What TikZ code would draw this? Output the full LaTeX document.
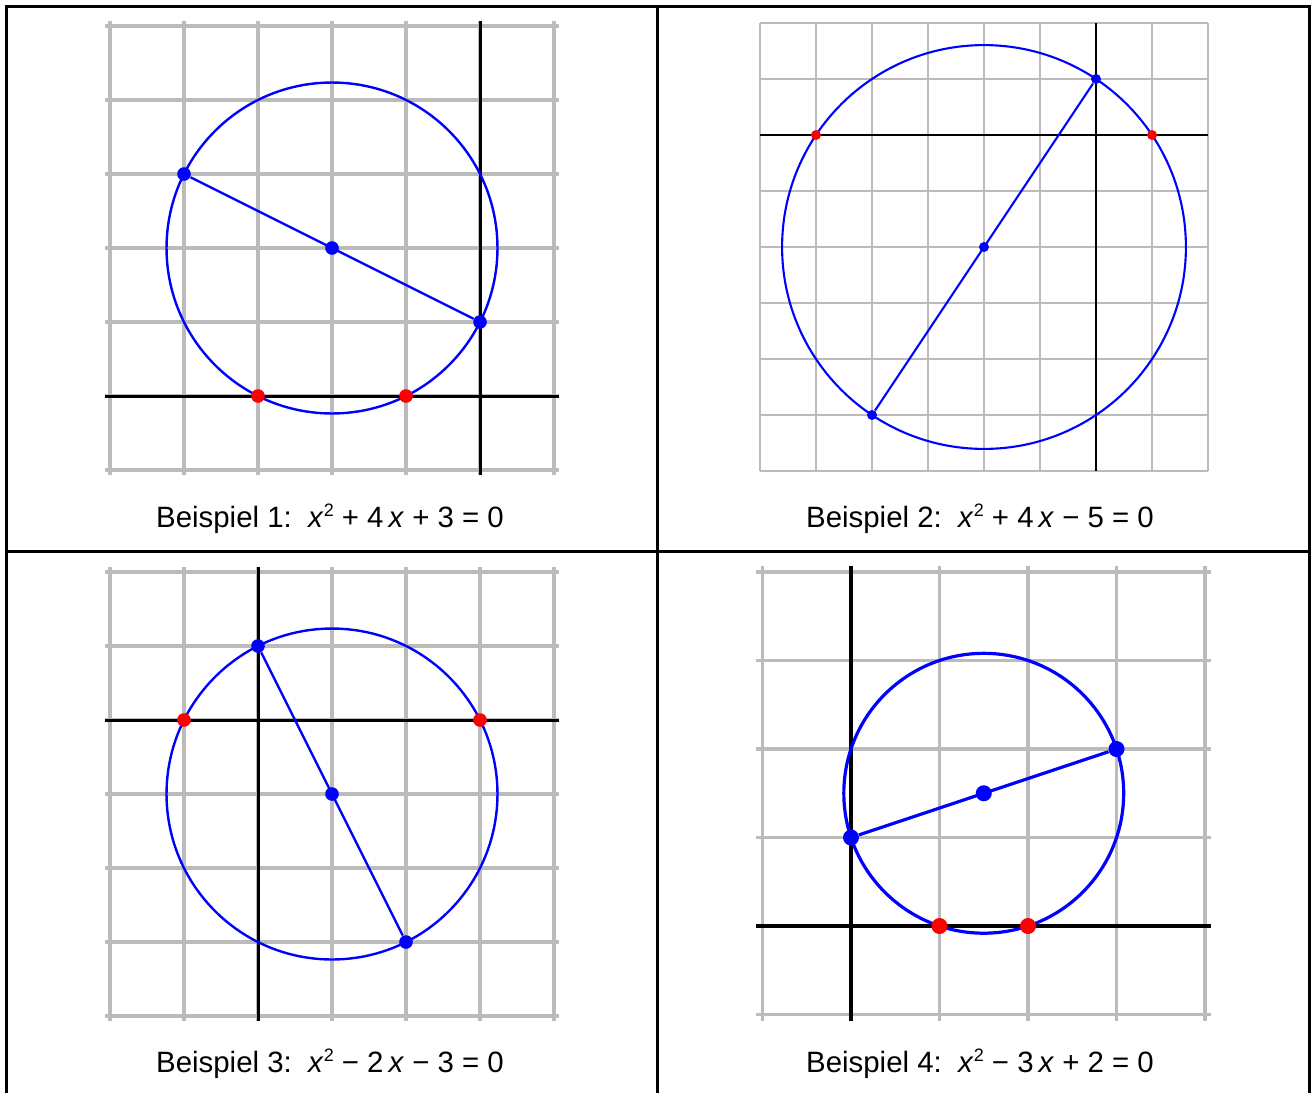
\documentclass[tikz,border=0pt]{standalone}
\usepackage{fontspec}
\setmainfont{Liberation Sans}
\usepackage{tikz}
\definecolor{GridGray}{HTML}{BBBBBB}
\definecolor{CircBlue}{HTML}{0000FF}
\definecolor{RootRed}{HTML}{FF0000}
\newcommand{\vx}{\textit{x}}
\newcommand{\sq}{\raisebox{5.5pt}{\fontsize{9}{9}\selectfont 2}}

\begin{document}
\begin{tikzpicture}[
  x=0.5pt, y=-0.5pt,
  frame/.style={line width=1.5pt, black},
  gridline/.style={line width=1.6pt, GridGray},
  axis/.style={line width=1.5pt, black},
  circ/.style={line width=1.2pt, CircBlue},
  bdot/.style={circle, fill=CircBlue, inner sep=0pt, minimum size=#1},
  bdot/.default=6.8pt,
  rdot/.style={circle, fill=RootRed, inner sep=0pt, minimum size=#1},
  rdot/.default=6.8pt,
  caption/.style={anchor=base, font=\fontsize{14.7}{18}\selectfont}
]
\useasboundingbox (0,0) rectangle (1311,1093);
\draw[frame] (6,1093) -- (6,6) -- (1309,6) -- (1309,1093);
\draw[frame] (657.5,6) -- (657.5,1093);
\draw[frame] (6,551.5) -- (1309,551.5);

\begin{scope}[shift={(480,396)}, x=37pt, y=37pt]
  \foreach \i in {-5,...,1}
    \draw[gridline] (\i,-1.07) -- (\i,5.07);
  \foreach \j in {-1,...,5}
    \draw[gridline] (-5.07,\j) -- (1.07,\j);
  \draw[axis] (-5.07,0) -- (1.07,0);
  \draw[axis] (0,-1.07) -- (0,5.07);
  \draw[circ] (-2,2) circle[radius=2.2361];
  \node[bdot] (A1) at (0,1) {};
  \node[bdot] (A2) at (-4,3) {};
  \draw[circ] (A1) -- (A2);
  \node[bdot] (AM) at (-2,2) {};
  \node[rdot] (AR1) at (-3,0) {};
  \node[rdot] (AR2) at (-1,0) {};
\end{scope}

\begin{scope}[shift={(1096,135)}, x=28pt, y=28pt]
  \foreach \i in {-6,...,2}
    \draw[gridline, line width=1.35pt] (\i,-6) -- (\i,2);
  \foreach \j in {-6,...,2}
    \draw[gridline, line width=1.35pt] (-6,\j) -- (2,\j);
  \draw[axis, line width=1.3pt] (-6,0) -- (2,0);
  \draw[axis, line width=1.3pt] (0,-6) -- (0,2);
  \draw[circ, line width=1.05pt] (-2,-2) circle[radius=3.6056];
  \node[bdot=5pt] (B1) at (0,1) {};
  \node[bdot=5pt] (B2) at (-4,-5) {};
  \draw[circ, line width=1.05pt] (B1) -- (B2);
  \node[bdot=5pt] (BM) at (-2,-2) {};
  \node[rdot=5pt] (BR1) at (-5,0) {};
  \node[rdot=5pt] (BR2) at (1,0) {};
\end{scope}

\begin{scope}[shift={(258,720)}, x=37pt, y=37pt]
  \foreach \i in {-2,...,4}
    \draw[gridline] (\i,-4.07) -- (\i,2.07);
  \foreach \j in {-4,...,2}
    \draw[gridline] (-2.07,\j) -- (4.07,\j);
  \draw[axis] (-2.07,0) -- (4.07,0);
  \draw[axis] (0,-4.07) -- (0,2.07);
  \draw[circ] (1,-1) circle[radius=2.2361];
  \node[bdot] (C1) at (0,1) {};
  \node[bdot] (C2) at (2,-3) {};
  \draw[circ] (C1) -- (C2);
  \node[bdot] (CM) at (1,-1) {};
  \node[rdot] (CR1) at (-1,0) {};
  \node[rdot] (CR2) at (3,0) {};
\end{scope}

\begin{scope}[shift={(851,926)}, x=44.25pt, y=44.25pt]
  \foreach \i in {-1,...,4}
    \draw[gridline, line width=1.7pt] (\i,-1.07) -- (\i,4.07);
  \foreach \j in {-1,...,4}
    \draw[gridline, line width=1.7pt] (-1.07,\j) -- (4.07,\j);
  \draw[axis, line width=1.7pt] (-1.07,0) -- (4.07,0);
  \draw[axis, line width=1.7pt] (0,-1.07) -- (0,4.07);
  \draw[circ, line width=1.6pt] (1.5,1.5) circle[radius=1.5811];
  \node[bdot=8pt] (D1) at (0,1) {};
  \node[bdot=8pt] (D2) at (3,2) {};
  \draw[circ, line width=1.6pt] (D1) -- (D2);
  \node[bdot=8pt] (DM) at (1.5,1.5) {};
  \node[rdot=8pt] (DR1) at (1,0) {};
  \node[rdot=8pt] (DR2) at (2,0) {};
\end{scope}

\node[caption] (capA) at (330,527) {Beispiel 1:\ \ \vx\sq\ + 4\,\vx{} + 3 = 0};
\node[caption] (capB) at (980,527) {Beispiel 2:\ \ \vx\sq\ + 4\,\vx{} − 5 = 0};
\node[caption] (capC) at (330,1072) {Beispiel 3:\ \ \vx\sq\ − 2\,\vx{} − 3 = 0};
\node[caption] (capD) at (980,1072) {Beispiel 4:\ \ \vx\sq\ − 3\,\vx{} + 2 = 0};
\end{tikzpicture}
\end{document}
